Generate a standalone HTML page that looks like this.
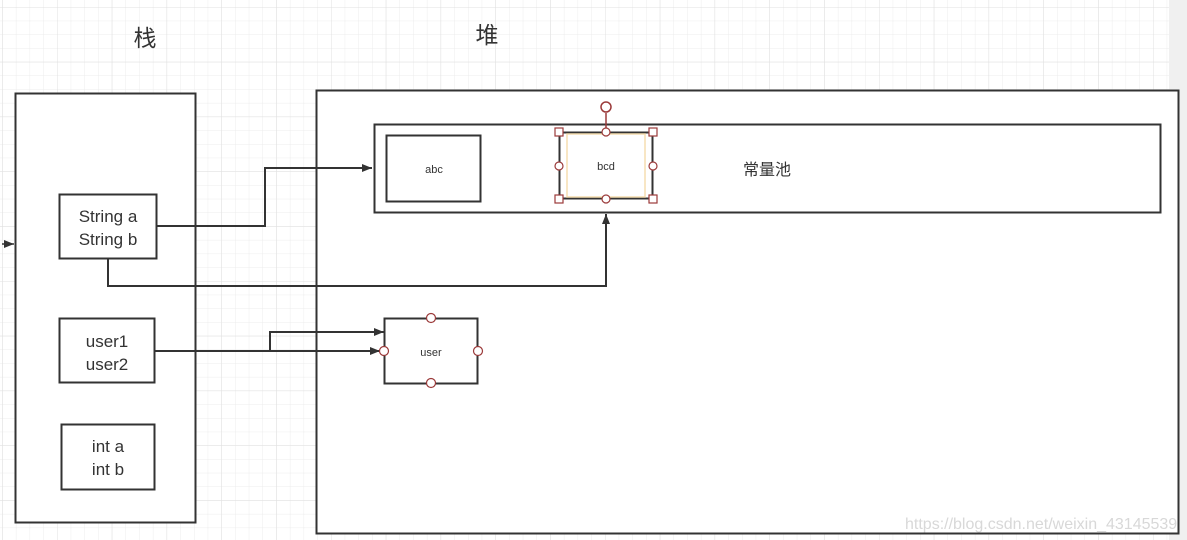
<!DOCTYPE html>
<html><head><meta charset="utf-8"><style>
html,body{margin:0;padding:0;background:#fff}
svg{display:block}
text{font-family:"Liberation Sans","Noto Sans CJK SC",sans-serif;fill:#333}
</style></head><body>
<svg width="1187" height="540" viewBox="0 0 1187 540" xmlns="http://www.w3.org/2000/svg">
<defs>
<pattern id="minor" x="2.2" y="7" width="13.7" height="13.7" patternUnits="userSpaceOnUse">
<path d="M0 0H13.7M0 0V13.7" stroke="#ececec" stroke-width="1" fill="none"/>
</pattern>
<pattern id="major" x="2.2" y="7" width="54.8" height="54.8" patternUnits="userSpaceOnUse">
<path d="M0 0H54.8M0 0V54.8" stroke="#e0e0e0" stroke-width="1" fill="none"/>
</pattern>
<marker id="ar" markerWidth="10" markerHeight="8" refX="10" refY="4" orient="auto" markerUnits="userSpaceOnUse">
<path d="M0 0L10 4L0 8Z" fill="#333"/>
</marker>
</defs>
<rect width="1169" height="540" fill="url(#minor)"/>
<rect width="1169" height="540" fill="url(#major)"/>
<rect x="1169" y="0" width="18" height="540" fill="#f0f0f0"/>

<text x="145" y="46" font-size="23" text-anchor="middle">栈</text>
<text x="487" y="43" font-size="23" text-anchor="middle">堆</text>

<rect x="15.5" y="93.5" width="180" height="429" fill="#fff" stroke="#333" stroke-width="2"/>
<path d="M2 244L14 244" stroke="#333" stroke-width="1.5" marker-end="url(#ar)"/>
<rect x="316.5" y="90.5" width="862" height="443" fill="#fff" stroke="#333" stroke-width="2"/>
<rect x="374.5" y="124.5" width="786" height="88" fill="#fff" stroke="#333" stroke-width="2"/>
<text x="767" y="175" font-size="16" text-anchor="middle">常量池</text>

<rect x="386.5" y="135.5" width="94" height="66" fill="#fff" stroke="#333" stroke-width="2"/>
<text x="434" y="173" font-size="11" text-anchor="middle">abc</text>

<rect x="559.5" y="132.5" width="93" height="66" fill="#fff" stroke="#333" stroke-width="2"/>
<rect x="567" y="134" width="78" height="63" fill="none" stroke="#f5deb0" stroke-width="1.5"/>
<text x="606" y="170" font-size="11" text-anchor="middle">bcd</text>
<line x1="606" y1="113" x2="606" y2="132" stroke="#9b3a3a" stroke-width="1.5"/>
<circle cx="606" cy="107" r="5" fill="#fff" stroke="#9b3a3a" stroke-width="1.5"/>
<g fill="#fff" stroke="#9b3a3a" stroke-width="1.2">
<rect x="555" y="128" width="8" height="8"/><rect x="649" y="128" width="8" height="8"/>
<rect x="555" y="195" width="8" height="8"/><rect x="649" y="195" width="8" height="8"/>
<circle cx="606" cy="132" r="4"/><circle cx="606" cy="199" r="4"/>
<circle cx="559" cy="166" r="4"/><circle cx="653" cy="166" r="4"/>
</g>

<g fill="none" stroke="#333" stroke-width="2">
<path d="M157 226H265V168H372" marker-end="url(#ar)"/>
<path d="M108 259V286H606V214" marker-end="url(#ar)"/>
<path d="M155 351H270V332H384" marker-end="url(#ar)"/>
<path d="M155 351H380" marker-end="url(#ar)"/>
</g>

<rect x="59.5" y="194.5" width="97" height="64" fill="#fff" stroke="#333" stroke-width="2"/>
<text x="108" y="222" font-size="17" text-anchor="middle">String a</text>
<text x="108" y="245" font-size="17" text-anchor="middle">String b</text>
<rect x="59.5" y="318.5" width="95" height="64" fill="#fff" stroke="#333" stroke-width="2"/>
<text x="107" y="347" font-size="17" text-anchor="middle">user1</text>
<text x="107" y="370" font-size="17" text-anchor="middle">user2</text>
<rect x="61.5" y="424.5" width="93" height="65" fill="#fff" stroke="#333" stroke-width="2"/>
<text x="108" y="452" font-size="17" text-anchor="middle">int a</text>
<text x="108" y="475" font-size="17" text-anchor="middle">int b</text>

<rect x="384.5" y="318.5" width="93" height="65" fill="#fff" stroke="#333" stroke-width="2"/>
<text x="431" y="356" font-size="11" text-anchor="middle">user</text>
<g fill="#fff" stroke="#9b3a3a" stroke-width="1.2">
<circle cx="431" cy="318" r="4.5"/><circle cx="431" cy="383" r="4.5"/>
<circle cx="384" cy="351" r="4.5"/><circle cx="478" cy="351" r="4.5"/>
</g>

<text x="905" y="529" font-size="16" style="fill:#d8d8d8">https://blog.csdn.net/weixin_43145539</text>
</svg>
</body></html>
